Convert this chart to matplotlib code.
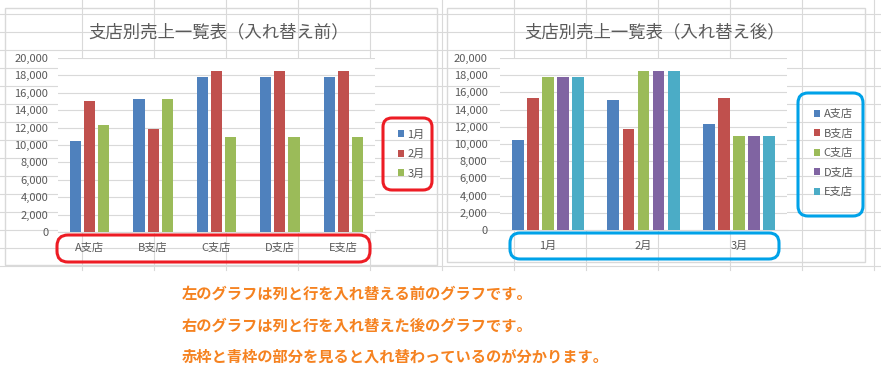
import matplotlib.pyplot as plt
from matplotlib.patches import Rectangle, FancyBboxPatch

plt.rcParams['font.family'] = ['Noto Sans CJK JP', 'DejaVu Sans']

# Sales data
branches = ["A支店", "B支店", "C支店", "D支店", "E支店"]
months = ["1月", "2月", "3月"]
sales_jan = [10500, 15300, 17800, 17800, 17800]
sales_feb = [15100, 11800, 18500, 18500, 18500]
sales_mar = [12300, 15300, 10900, 10900, 10900]
yticks = [0, 2000, 4000, 6000, 8000, 10000, 12000, 14000, 16000, 18000, 20000]

month_colors = ["#4F81BD", "#C0504D", "#9BBB59"]
branch_colors = ["#4F81BD", "#C0504D", "#9BBB59", "#8064A2", "#4BACC6"]

notes = ["左のグラフは列と行を入れ替える前のグラフです。",
         "右のグラフは列と行を入れ替えた後のグラフです。",
         "赤枠と青枠の部分を見ると入れ替わっているのが分かります。"]

W, H = 881, 392
TXT = "#595959"


def rect(x0, y0, x1, y1):
    return [x0 / W, 1 - y1 / H, (x1 - x0) / W, (y1 - y0) / H]


fig = plt.figure(figsize=(W / 100, H / 100), dpi=100)

# excel sheet in the background
bg = fig.add_axes([0, 0, 1, 1])
bg.set_xlim(0, W)
bg.set_ylim(H, 0)
bg.axis("off")
for y in range(14, 270, 18):
    bg.plot([0, W], [y, y], color="#D9D9D9", lw=0.8)
for x in range(82, W, 72):
    bg.plot([x, x], [0, 270], color="#D9D9D9", lw=0.8)
bg.add_patch(Rectangle((0, 270), W, H - 270, color="white"))
bg.add_patch(Rectangle((5, 8), 432, 257, facecolor="white", edgecolor="#D9D9D9", lw=1))
bg.add_patch(Rectangle((447, 8), 418, 254, facecolor="white", edgecolor="#D9D9D9", lw=1))


def style(ax, ypad):
    ax.set_ylim(0, 20000)
    ax.set_yticks(yticks)
    ax.set_yticklabels([f"{v:,}" for v in yticks])
    ax.grid(axis="y", color="#D9D9D9", lw=0.8)
    ax.set_axisbelow(True)
    for s in ["top", "right", "left"]:
        ax.spines[s].set_visible(False)
    ax.spines["bottom"].set_color("#D9D9D9")
    ax.tick_params(axis="both", length=0, labelsize=8, labelcolor=TXT)
    ax.tick_params(axis="y", pad=ypad)
    ax.tick_params(axis="x", pad=8)


# left chart: branches on the x axis
ax1 = fig.add_axes(rect(58, 58, 375, 232))
series1 = [sales_jan, sales_feb, sales_mar]
bars1 = []
for i, vals in enumerate(series1):
    xs = [k + (i - 1) * 0.222 for k in range(len(branches))]
    bars1.append(ax1.bar(xs, vals, width=0.175, color=month_colors[i], zorder=3))
ax1.set_xlim(-0.5, len(branches) - 0.5)
ax1.set_xticks(range(len(branches)))
ax1.set_xticklabels(branches)
style(ax1, 7)
fig.text(219 / W, 1 - 32 / H, "支店別売上一覧表（入れ替え前）", ha="center", va="center",
         fontsize=12.5, color=TXT)
ax1.legend(bars1, months, loc="center left", bbox_to_anchor=(392 / W, 1 - 154 / H),
           bbox_transform=fig.transFigure, frameon=False, fontsize=8, labelcolor=TXT,
           handlelength=0.6, handleheight=0.6, handletextpad=0.3, labelspacing=0.85,
           borderpad=0)

# right chart: months on the x axis
ax2 = fig.add_axes(rect(500, 58, 787, 230))
bars2 = []
for j, b in enumerate(branches):
    vals = [sales_jan[j], sales_feb[j], sales_mar[j]]
    xs = [k + (j - 2) * 0.157 for k in range(len(months))]
    bars2.append(ax2.bar(xs, vals, width=0.125, color=branch_colors[j], zorder=3))
ax2.set_xlim(-0.5, len(months) - 0.5)
ax2.set_xticks(range(len(months)))
ax2.set_xticklabels(months)
style(ax2, 9)
fig.text(655 / W, 1 - 32 / H, "支店別売上一覧表（入れ替え後）", ha="center", va="center",
         fontsize=12.5, color=TXT)
ax2.legend(bars2, branches, loc="center left", bbox_to_anchor=(808 / W, 1 - 153 / H),
           bbox_transform=fig.transFigure, frameon=False, fontsize=8, labelcolor=TXT,
           handlelength=0.6, handleheight=0.6, handletextpad=0.3, labelspacing=0.85,
           borderpad=0)

# overlay: highlight boxes and notes
ov = fig.add_axes([0, 0, 1, 1])
ov.set_xlim(0, W)
ov.set_ylim(H, 0)
ov.axis("off")
ov.patch.set_alpha(0)


def box(x0, y0, x1, y1, color, r):
    ov.add_patch(FancyBboxPatch((x0 + r, y0 + r), x1 - x0 - 2 * r, y1 - y0 - 2 * r,
                                boxstyle=f"round,pad={r}", fill=False, ec=color, lw=2.2))


box(383, 118, 432, 190, "#ED1C24", 9)
box(57, 235, 370, 262, "#ED1C24", 11)
box(798, 93, 863, 216, "#00A2E8", 10)
box(510, 233, 779, 259, "#00A2E8", 10)

for y, t in zip([294, 326, 357], notes):
    ov.text(182, y, t, ha="left", va="center", fontsize=11, fontweight="bold",
            color="#F58220")

fig.savefig("out.png", dpi=100)
